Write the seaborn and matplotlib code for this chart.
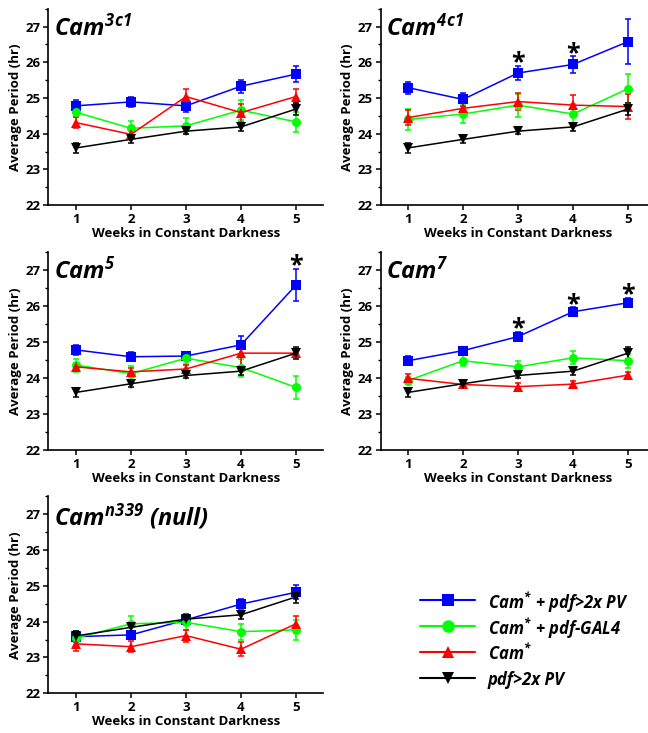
import numpy as np
import pandas as pd
import matplotlib
matplotlib.use("Agg")
import matplotlib.pyplot as plt
from matplotlib.lines import Line2D
from matplotlib.ticker import MultipleLocator
import seaborn as sns

# weeks in constant darkness
weeks = [1, 2, 3, 4, 5]

# genotypes (legend order), colours and markers
genotypes = ["Cam* + pdf>2x PV", "Cam* + pdf-GAL4", "Cam*", "pdf>2x PV"]
legend_labels = [r"$Cam^{*}$ + pdf>2x PV", r"$Cam^{*}$ + pdf-GAL4", r"$Cam^{*}$", "pdf>2x PV"]
colors = ["#0000ff", "#00ff00", "#ff0000", "#000000"]
markers = ["s", "o", "^", "v"]

# control pdf>2x PV (same in every panel)
pv_mean = [23.60, 23.84, 24.07, 24.19, 24.69]
pv_err = [0.13, 0.10, 0.08, 0.12, 0.16]

# Cam3c1
cam3c1_blue = [24.78, 24.89, 24.78, 25.33, 25.67]
cam3c1_blue_err = [0.15, 0.15, 0.18, 0.18, 0.22]
cam3c1_green = [24.60, 24.15, 24.22, 24.66, 24.33]
cam3c1_green_err = [0.12, 0.20, 0.22, 0.27, 0.28]
cam3c1_red = [24.31, 23.98, 25.04, 24.59, 25.04]
cam3c1_red_err = [0.15, 0.10, 0.22, 0.25, 0.22]

# Cam4c1
cam4c1_blue = [25.29, 24.96, 25.70, 25.94, 26.58]
cam4c1_blue_err = [0.17, 0.18, 0.20, 0.23, 0.63]
cam4c1_green = [24.40, 24.55, 24.80, 24.55, 25.26]
cam4c1_green_err = [0.30, 0.25, 0.32, 0.27, 0.40]
cam4c1_red = [24.45, 24.71, 24.90, 24.80, 24.76]
cam4c1_red_err = [0.20, 0.15, 0.25, 0.28, 0.35]

# Cam5
cam5_blue = [24.78, 24.59, 24.61, 24.92, 26.58]
cam5_blue_err = [0.15, 0.13, 0.12, 0.25, 0.45]
cam5_green = [24.36, 24.12, 24.55, 24.29, 23.74]
cam5_green_err = [0.18, 0.20, 0.15, 0.25, 0.32]
cam5_red = [24.31, 24.17, 24.25, 24.69, 24.69]
cam5_red_err = [0.10, 0.10, 0.12, 0.35, 0.10]

# Cam7
cam7_blue = [24.48, 24.76, 25.15, 25.84, 26.09]
cam7_blue_err = [0.12, 0.10, 0.13, 0.12, 0.13]
cam7_green = [23.93, 24.48, 24.31, 24.56, 24.48]
cam7_green_err = [0.10, 0.15, 0.17, 0.18, 0.20]
cam7_red = [23.99, 23.82, 23.76, 23.83, 24.08]
cam7_red_err = [0.12, 0.10, 0.10, 0.10, 0.10]

# Camn339 (null)
camn339_blue = [23.58, 23.63, 24.05, 24.49, 24.82]
camn339_blue_err = [0.15, 0.10, 0.15, 0.15, 0.20]
camn339_green = [23.54, 23.94, 23.98, 23.72, 23.77]
camn339_green_err = [0.20, 0.22, 0.20, 0.22, 0.27]
camn339_red = [23.38, 23.30, 23.61, 23.23, 23.94]
camn339_red_err = [0.20, 0.15, 0.17, 0.20, 0.22]

panels = [
    (r"$Cam^{3c1}$", [cam3c1_blue, cam3c1_green, cam3c1_red, pv_mean],
     [cam3c1_blue_err, cam3c1_green_err, cam3c1_red_err, pv_err], []),
    (r"$Cam^{4c1}$", [cam4c1_blue, cam4c1_green, cam4c1_red, pv_mean],
     [cam4c1_blue_err, cam4c1_green_err, cam4c1_red_err, pv_err], [3, 4]),
    (r"$Cam^{5}$", [cam5_blue, cam5_green, cam5_red, pv_mean],
     [cam5_blue_err, cam5_green_err, cam5_red_err, pv_err], [5]),
    (r"$Cam^{7}$", [cam7_blue, cam7_green, cam7_red, pv_mean],
     [cam7_blue_err, cam7_green_err, cam7_red_err, pv_err], [3, 4, 5]),
    (r"$Cam^{n339}$ (null)", [camn339_blue, camn339_green, camn339_red, pv_mean],
     [camn339_blue_err, camn339_green_err, camn339_red_err, pv_err], []),
]

sns.set_style("ticks")
plt.rcParams["font.family"] = ["Open Sans", "DejaVu Sans"]
plt.rcParams["font.weight"] = "bold"
plt.rcParams["mathtext.fontset"] = "custom"
plt.rcParams["mathtext.rm"] = "Open Sans:italic:bold"
plt.rcParams["mathtext.it"] = "Open Sans:italic:bold"
plt.rcParams["mathtext.bf"] = "Open Sans:italic:bold"
for k in ["text.color", "axes.labelcolor", "xtick.color", "ytick.color", "axes.edgecolor"]:
    plt.rcParams[k] = "black"

fig = plt.figure(figsize=(6.48, 7.33), dpi=100)

# axes rectangles (figure fraction)
positions = [
    [0.0748, 0.7203, 0.4244, 0.2677],
    [0.5872, 0.7203, 0.4244, 0.2677],
    [0.0748, 0.3861, 0.4244, 0.2701],
    [0.5872, 0.3861, 0.4244, 0.2701],
    [0.0748, 0.0542, 0.4244, 0.2688],
]

for pos, (title, means, errs, stars) in zip(positions, panels):
    ax = fig.add_axes(pos)
    rows = []
    for g, m in zip(genotypes, means):
        for w, v in zip(weeks, m):
            rows.append({"week": w, "period": v, "genotype": g})
    df = pd.DataFrame(rows)

    for g, m, e, c in zip(genotypes, means, errs, colors):
        ax.errorbar(weeks, m, yerr=e, fmt="none", ecolor=c, elinewidth=1.1,
                    capsize=2.5, capthick=1.1, zorder=2)

    sns.lineplot(data=df, x="week", y="period", hue="genotype", style="genotype",
                 hue_order=genotypes, style_order=genotypes,
                 palette=dict(zip(genotypes, colors)),
                 markers=dict(zip(genotypes, markers)), dashes=False,
                 markersize=6.5, markeredgewidth=0, linewidth=1.1,
                 legend=False, ax=ax, zorder=3)

    # significance asterisks above the blue series
    for w in stars:
        i = weeks.index(w)
        top = means[0][i] + errs[0][i]
        ax.text(w, top - 0.1, "*", ha="center", va="baseline",
                fontsize=18, fontweight="bold")

    ax.text(0.02, 0.97, title, transform=ax.transAxes, fontsize=17,
            ha="left", va="top", fontweight="bold", fontstyle="italic")

    ax.set_xlim(0.5, 5.5)
    ax.set_ylim(22, 27.5)
    ax.set_xticks(weeks)
    ax.set_yticks([22, 23, 24, 25, 26, 27])
    ax.yaxis.set_minor_locator(MultipleLocator(0.5))
    ax.tick_params(axis="both", which="major", direction="out", length=3.5,
                   width=1.1, labelsize=9.5, pad=2)
    ax.tick_params(axis="y", which="minor", direction="out", length=2, width=1)
    for lab in ax.get_xticklabels() + ax.get_yticklabels():
        lab.set_fontweight("bold")
    for s in ["left", "bottom"]:
        ax.spines[s].set_linewidth(1.2)
    sns.despine(ax=ax)
    ax.set_xlabel("Weeks in Constant Darkness", fontsize=9.5, fontweight="bold", labelpad=1)
    ax.set_ylabel("Average Period (hr)", fontsize=9.5, fontweight="bold", labelpad=3)

# legend drawn as evenly spaced rows in the empty lower-right area
W, H = 648.0, 733.0
row_y = [600, 626, 652, 678]
for yy, lab, c, m in zip(row_y, legend_labels, colors, markers):
    fy = 1 - yy / H
    fig.add_artist(Line2D([420 / W, 475 / W], [fy, fy], color=c, linewidth=1.5,
                          transform=fig.transFigure))
    fig.add_artist(Line2D([447.5 / W], [fy], color=c, marker=m, markersize=9,
                          markeredgewidth=0, linestyle="none",
                          transform=fig.transFigure))
    fig.text(488 / W, fy, lab, ha="left", va="center_baseline", fontsize=12,
             fontweight="bold", fontstyle="italic")

fig.savefig("out.png", dpi=100)
